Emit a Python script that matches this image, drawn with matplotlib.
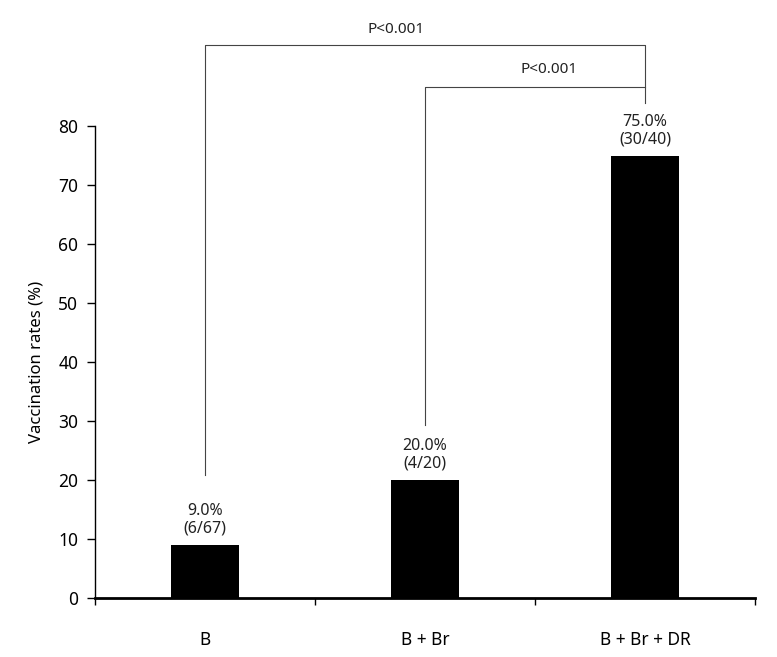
import matplotlib
matplotlib.use('Agg')
import matplotlib.pyplot as plt
import numpy as np

plt.rc('font', family='Noto Sans', size=11)

groups = ['B', 'B + Br', 'B + Br + DR']
rates = [9.0, 20.0, 75.0]
counts = ['(6/67)', '(4/20)', '(30/40)']
p_labels = ['P<0.001', 'P<0.001']

fig = plt.figure(figsize=(7.77, 6.57), dpi=100)
ax = fig.add_axes([95 / 777, 1 - 598 / 657, 660 / 777, 472 / 657])

x = np.arange(len(groups))
bars = ax.bar(x, rates, width=0.31, color='black')

for i in range(len(bars)):
    ax.annotate("{:.1f}%\n{}".format(rates[i], counts[i]),
                xy=(x[i], rates[i]), xytext=(0, 6), textcoords='offset points',
                ha='center', va='bottom', fontsize=11.5, linespacing=1.1, color='#222222')

ax.set_xlim(-0.5, 2.5)
ax.set_ylim(0, 80)
ax.set_yticks(np.arange(0, 81, 10))
ax.set_xticks(x)
ax.set_xticklabels(groups, fontsize=12.5)
ax.set_xticks([-0.5, 0.5, 1.5, 2.5], minor=True)
ax.tick_params(axis='x', which='major', length=0, pad=24)
ax.tick_params(axis='x', which='minor', length=5, width=1, direction='out')
ax.tick_params(axis='y', length=6, width=1, direction='out', labelsize=12.5, pad=6)
ax.set_ylabel('Vaccination rates (%)', fontsize=12, labelpad=10)

for s in ['top', 'right']:
    ax.spines[s].set_visible(False)
ax.spines['bottom'].set_linewidth(2)
ax.spines['left'].set_linewidth(1)

# significance brackets
lc = '#444444'
ax.plot([0, 0, 2, 2], [20.8, 93.8, 93.8, 83.9], color=lc, linewidth=0.8, clip_on=False)
ax.plot([1, 1, 2], [29.3, 86.6, 86.6], color=lc, linewidth=0.8, clip_on=False)
ax.text(0.87, 96.3, p_labels[0], ha='center', va='center', fontsize=11, color='#222222')
ax.text(1.565, 89.5, p_labels[1], ha='center', va='center', fontsize=11, color='#222222')

fig.savefig('out.png', dpi=100)
